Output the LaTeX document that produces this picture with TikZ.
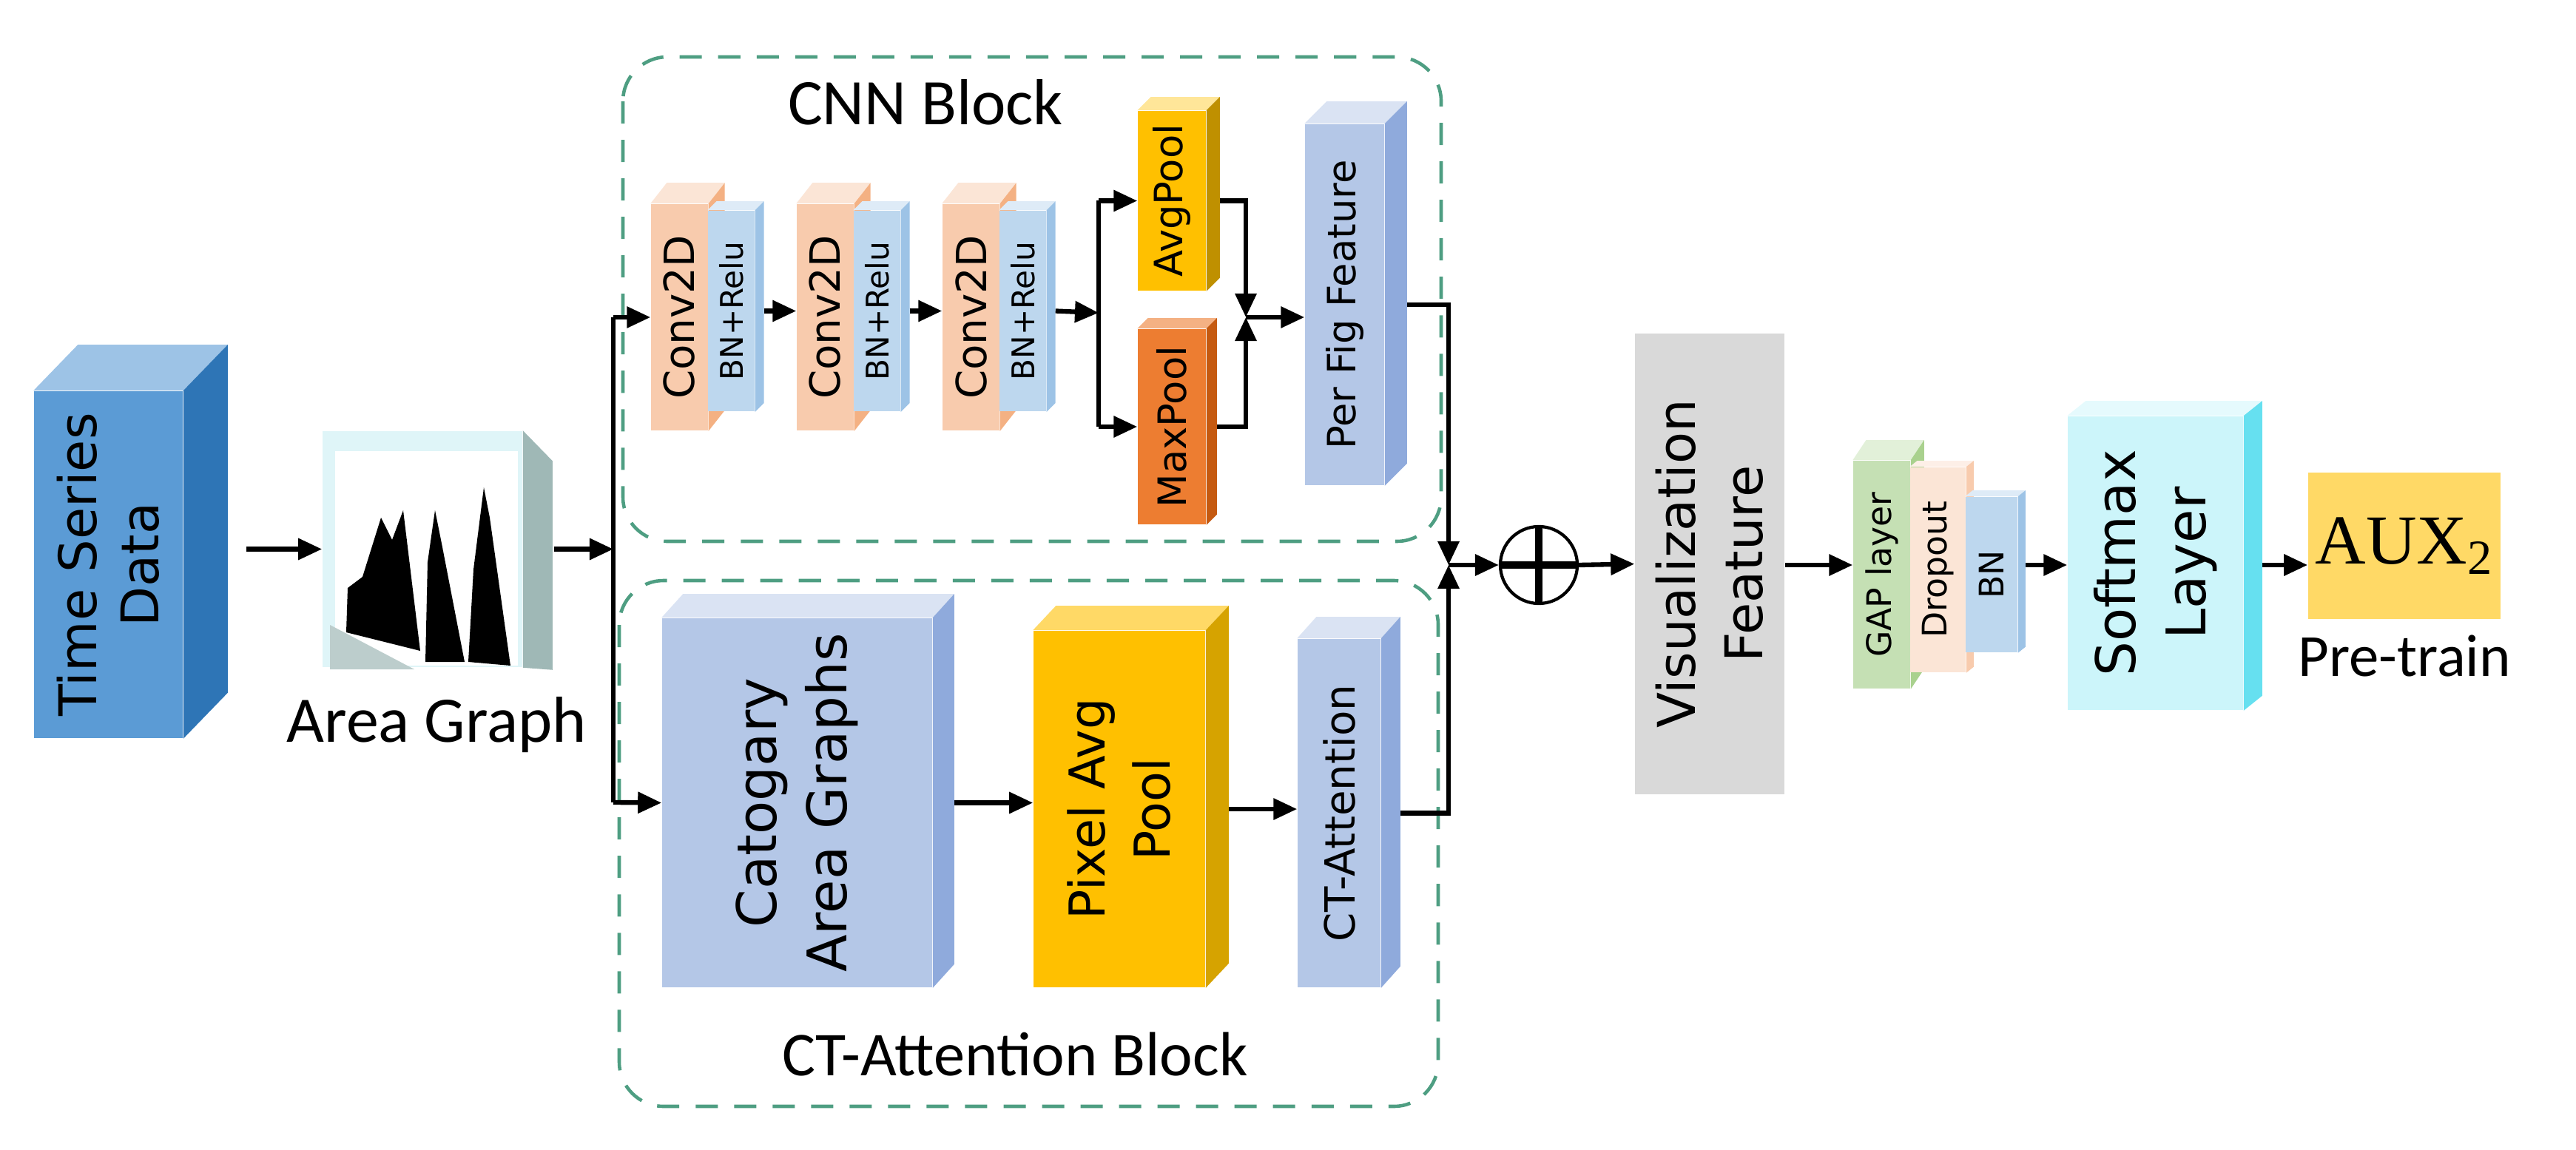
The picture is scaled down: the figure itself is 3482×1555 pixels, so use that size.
\documentclass[tikz,border=0pt]{standalone}
\usepackage{fontspec}
\setmainfont{DejaVu Sans}
\newfontfamily\lab{Carlito}
\newfontfamily\tms{Liberation Serif}
\usepackage{tikz}
\usetikzlibrary{arrows.meta,calc}

\definecolor{tsF}{HTML}{5B9BD5}\definecolor{tsT}{HTML}{9DC3E6}\definecolor{tsS}{HTML}{2E75B6}
\definecolor{convF}{HTML}{F8CBAD}\definecolor{convT}{HTML}{FBE5D6}\definecolor{convS}{HTML}{F4B183}
\definecolor{bnF}{HTML}{BDD7EE}\definecolor{bnT}{HTML}{DEEBF7}\definecolor{bnS}{HTML}{9DC3E6}
\definecolor{avgF}{HTML}{FFC000}\definecolor{avgT}{HTML}{FFE699}\definecolor{avgS}{HTML}{BF9000}
\definecolor{maxF}{HTML}{ED7D31}\definecolor{maxT}{HTML}{F4B183}\definecolor{maxS}{HTML}{C55A11}
\definecolor{pfF}{HTML}{B4C7E7}\definecolor{pfT}{HTML}{DAE3F3}\definecolor{pfS}{HTML}{8FAADC}
\definecolor{pixS}{HTML}{D6A300}
\definecolor{visF}{HTML}{D9D9D9}
\definecolor{gapF}{HTML}{C5E0B4}\definecolor{gapT}{HTML}{E2F0D9}\definecolor{gapS}{HTML}{A9D18E}
\definecolor{softF}{HTML}{CCF5FA}\definecolor{softT}{HTML}{E5FAFD}\definecolor{softS}{HTML}{66E0F0}
\definecolor{auxF}{HTML}{FFD966}
\definecolor{frameC}{HTML}{4E9E82}
\definecolor{agF}{HTML}{DFF5F8}\definecolor{agS}{HTML}{9FB8B6}

\newcommand\fs[2]{\fontsize{#1}{#2}\selectfont}
% depth faces of a block: name, dx, dy, top colour, side colour
\newcommand\depth[5]{%
  \fill[#4] (#1.north west) -- ++(#2,-#3) -- ($(#1.north east)+(#2,-#3)$) -- (#1.north east) -- cycle;
  \fill[#5] (#1.north east) -- ++(#2,-#3) -- ($(#1.south east)+(#2,-#3)$) -- (#1.south east) -- cycle;}

\tikzset{
  blk/.style={rectangle,inner sep=0pt,draw=none},
  txt/.style={rotate=90,align=center,inner sep=0pt},
  arr/.style={line width=1.8pt,-{Triangle[length=0.32cm,width=0.28cm]}},
  frame/.style={draw=frameC,line width=1.3pt,dash pattern=on 0.3cm off 0.22cm,rounded corners=0.6cm}
}

\begin{document}
\begin{tikzpicture}[x=0.01cm,y=-0.01cm]

\useasboundingbox (0,0) rectangle (3482,1555);

% input
\node[blk,fill=tsF,minimum width=2.01cm,minimum height=4.69cm] (ts) at (146.5,763.5) {};
\depth{ts}{60}{62}{tsT}{tsS}
\node[txt,font=\fs{20}{24}] (ts-t) at (ts) {Time Series\\Data};

% area graph
\node[blk,fill=agF,minimum width=2.70cm,minimum height=3.19cm] (ag) at (571,742.5) {};
\fill[agS] (ag.north east) -- ++(40,41) -- ($(ag.south east)+(40,3)$) -- (ag.south east) -- cycle;
\fill[white] (453,610) rectangle (700,900);
\fill[agS!70] (446,845) -- (560,905) -- (446,905) -- cycle;
\fill[black] (468,855) -- (470,795) -- (490,780) -- (515,700) -- (530,730) -- (545,690) -- (568,880) -- cycle;
\fill[black] (575,895) -- (578,760) -- (588,690) -- (598,740) -- (628,895) -- cycle;
\fill[black] (633,895) -- (640,770) -- (654,659) -- (662,700) -- (690,900) -- cycle;
\node[font=\lab\fs{25}{30}] (ag-t) at (590,980) {Area Graph};

\draw[arr] ([xshift=0.85cm]ts.east |- ag.west) -- (ag.west);
\coordinate (sp) at (829,742.5);
\coordinate (sp-t) at (829,429);
\coordinate (sp-b) at (829,1085);
\draw[arr] ([xshift=0.42cm]ag.east) -- (sp);
\draw[line width=1.8pt] (sp-t) -- (sp-b);

% CNN block
\draw[frame] (842,77) rectangle (1948,732);
\node[font=\lab\fs{25}{30}] (cnn-t) at (1251,138) {CNN Block};

\foreach \i in {1,2,3} {
  \node[blk,fill=convF,minimum width=0.77cm,minimum height=3.06cm] (conv\i) at (918.5+197*\i-197,429) {};
  \depth{conv\i}{22}{28}{convT}{convS}
  \node[blk,fill=bnF,minimum width=0.63cm,minimum height=2.71cm] (bn\i) at (988.5+197*\i-197,420.5) {};
  \depth{bn\i}{12}{12}{bnT}{bnS}
  \node[txt,font=\fs{16}{19}] (conv\i-t) at (conv\i) {Conv2D};
  \node[txt,font=\fs{12}{14}] (bn\i-t) at (bn\i) {BN+Relu};
}
\draw[arr] (sp-t) -- (conv1.west);
\draw[arr] ([xshift=0.12cm]bn1.east) -- (conv2.west |- bn1.east);
\draw[arr] ([xshift=0.12cm]bn2.east) -- (conv3.west |- bn2.east);

\node[blk,fill=avgF,minimum width=0.92cm,minimum height=2.43cm] (avg) at (1584,271.5) {};
\depth{avg}{18}{18}{avgT}{avgS}
\node[txt,font=\fs{15}{18}] (avg-t) at (avg) {AvgPool};
\node[blk,fill=maxF,minimum width=0.92cm,minimum height=2.64cm] (max) at (1584,577) {};
\depth{max}{14}{14}{maxT}{maxS}
\node[txt,font=\fs{15}{18}] (max-t) at (max) {MaxPool};

\coordinate (cs) at (1485,423);
\draw[arr] ([xshift=0.12cm]bn3.east) -- (cs);
\draw[line width=1.8pt] (cs |- avg) -- (cs |- max);
\draw[arr] (cs |- avg) -- (avg.west);
\draw[arr] (cs |- max) -- (max.west);
\coordinate (mg) at (1684,429);
\draw[arr] ([xshift=0.18cm]avg.east) -| (mg);
\draw[arr] ([xshift=0.14cm]max.east) -| (mg);

\node[blk,fill=pfF,minimum width=1.07cm,minimum height=4.88cm] (perfig) at (1817.5,412) {};
\depth{perfig}{30}{30}{pfT}{pfS}
\node[txt,font=\fs{15}{18}] (perfig-t) at (perfig) {Per Fig Feature};
\draw[arr] (mg) -- (perfig.west |- mg);

% CT-Attention block
\draw[frame] (837,785) rectangle (1944,1496);
\node[font=\lab\fs{24}{29}] (ct-t) at (1372,1425) {CT-Attention Block};

\node[blk,fill=pfF,minimum width=3.65cm,minimum height=4.99cm] (cat) at (1077.5,1085.5) {};
\depth{cat}{29}{32}{pfT}{pfS}
\node[txt,font=\fs{21}{27}] (cat-t) at (cat) {Catogary\\Area Graphs};
\node[blk,fill=avgF,minimum width=2.32cm,minimum height=4.82cm] (pix) at (1513,1094) {};
\depth{pix}{31}{33}{auxF}{pixS}
\node[txt,font=\fs{19}{25}] (pix-t) at (pix) {Pixel Avg\\Pool};
\node[blk,fill=pfF,minimum width=1.12cm,minimum height=4.71cm] (ctatt) at (1810,1099.5) {};
\depth{ctatt}{26}{29}{pfT}{pfS}
\node[txt,font=\fs{16}{19}] (ctatt-t) at (ctatt) {CT-Attention};

\draw[arr] (sp-b) -- (cat.west);
\draw[arr] ([xshift=0.29cm]cat.east) -- (pix.west |- cat.east);
\draw[arr] ([xshift=0.31cm]pix.east) -- (ctatt.west |- pix.east);

% fusion
\coordinate (fm) at (1958,764);
\draw[arr] ([xshift=0.3cm]perfig.east) -| (fm);
\draw[arr] ([xshift=0.26cm]ctatt.east) -| (fm);
\node[circle,draw,line width=1.2pt,minimum size=1.04cm,inner sep=0pt] (plus) at (2080,764) {};
\draw[line width=2.6pt] (plus.north) -- (plus.south) (plus.west) -- (plus.east);
\draw[arr] (fm) -- (plus.west);

% head
\node[blk,fill=visF,minimum width=2.02cm,minimum height=6.23cm] (vis) at (2311,762.5) {};
\node[txt,font=\fs{20}{26}] (vis-t) at (vis) {Visualization\\Feature};
\draw[arr] (plus.east) -- (vis.west);

\node[blk,fill=gapF,minimum width=0.77cm,minimum height=3.08cm] (gap) at (2543.5,777) {};
\depth{gap}{18}{27}{gapT}{gapS}
\node[blk,fill=convT,minimum width=0.75cm,minimum height=2.77cm] (drop) at (2619.5,770.5) {};
\depth{drop}{10}{8}{convT!60}{convF}
\node[blk,fill=bnF,minimum width=0.70cm,minimum height=2.10cm] (bn) at (2692,777) {};
\depth{bn}{10}{8}{bnT}{bnS}
\node[txt,font=\fs{13}{16}] (gap-t) at (gap) {GAP layer};
\node[txt,font=\fs{13}{16}] (drop-t) at (drop) {Dropout};
\node[txt,font=\fs{13}{16}] (bn-t) at (bn) {BN};
\draw[arr] (vis.east |- plus) -- (gap.west |- plus);

\node[blk,fill=softF,minimum width=2.37cm,minimum height=3.97cm] (soft) at (2913.5,761.5) {};
\depth{soft}{25}{20}{softT}{softS}
\node[txt,font=\fs{21}{27}] (soft-t) at (soft) {Softmax\\Layer};
\draw[arr] ([xshift=0.1cm]bn.east |- plus) -- (soft.west |- plus);

\node[blk,fill=auxF,minimum width=2.60cm,minimum height=1.98cm] (aux) at (3250,738) {};
\node[font=\tms\fs{27}{32}] (aux-t) at (aux) {AUX\textsubscript{2}};
\node[font=\lab\fs{23}{28}] (pre-t) at (3250,887) {Pre-train};
\draw[arr] ([xshift=0.25cm]soft.east |- plus) -- (aux.west |- plus);

\end{tikzpicture}
\end{document}
